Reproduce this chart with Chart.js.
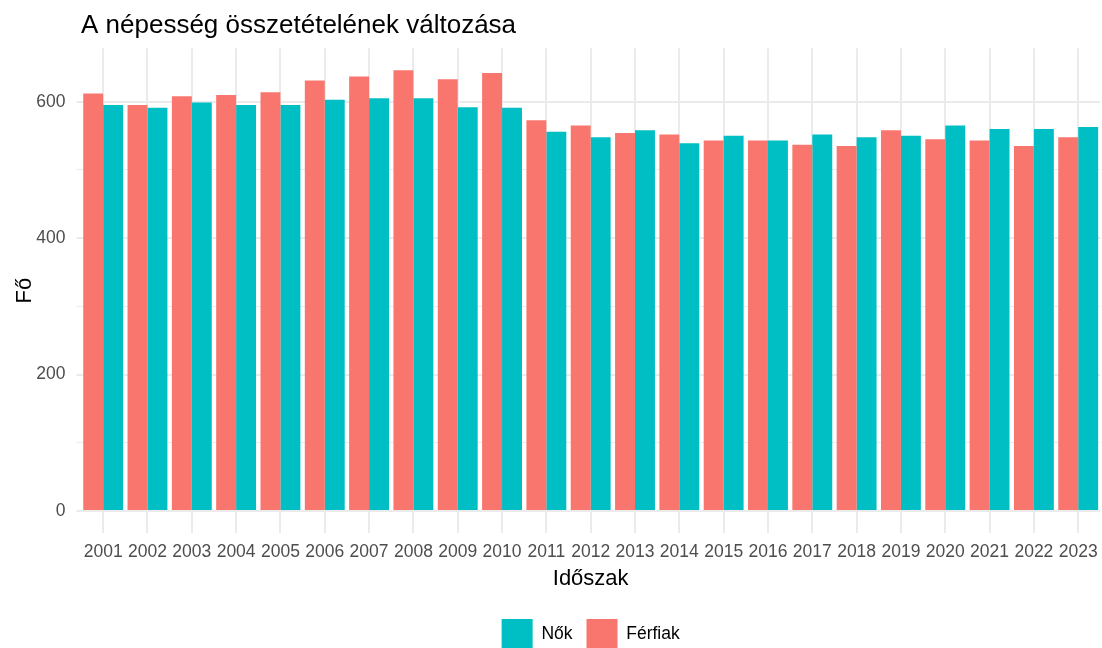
<!DOCTYPE html>
<html>
<head>
<meta charset="utf-8">
<script src="https://cdn.jsdelivr.net/npm/chart.js@4"></script>
<style>
  html, body { margin: 0; padding: 0; overflow: hidden; background: #ffffff; }
  #wrap { width: 1106px; height: 660px; }
</style>
</head>
<body>
<div id="wrap"><canvas id="c" width="1106" height="660"></canvas></div>
<script>
const years = ["2001","2002","2003","2004","2005","2006","2007","2008","2009","2010","2011","2012","2013","2014","2015","2016","2017","2018","2019","2020","2021","2022","2023"];
const ferfiak = [612, 595, 608, 610, 614, 631, 637, 646, 633, 642, 573, 565, 554, 552, 543, 543, 537, 535, 558, 545, 543, 535, 548];
const nok     = [595, 591, 599, 595, 595, 603, 605, 605, 592, 591, 556, 548, 558, 539, 550, 543, 552, 548, 550, 565, 560, 560, 563];
const yTicks  = [0, 100, 200, 300, 400, 500, 600];
const yLabeled = [0, 200, 400, 600];

const dataMax = Math.max(...ferfiak, ...nok);
const pad = dataMax * 0.05;

Chart.defaults.font.family = "'Liberation Sans', Arial, sans-serif";

new Chart(document.getElementById('c'), {
  type: 'bar',
  data: {
    labels: years,
    datasets: [
      { label: 'Férfiak', data: ferfiak, backgroundColor: '#F8766D', borderWidth: 0 },
      { label: 'Nők', data: nok, backgroundColor: '#00BFC4', borderWidth: 0 }
    ]
  },
  options: {
    responsive: false,
    devicePixelRatio: 1,
    animation: false,
    events: [],
    layout: { padding: 0 },
    datasets: { bar: { categoryPercentage: 0.9, barPercentage: 1.0 } },
    plugins: {
      title: {
        display: true,
        text: 'A népesség összetételének változása',
        align: 'start',
        fullSize: false,
        color: '#000000',
        font: { size: 26, weight: 'normal' },
        padding: { top: 9.9, bottom: 7.2 }
      },
      legend: {
        display: true,
        position: 'bottom',
        fullSize: false,
        reverse: true,
        labels: {
          boxWidth: 31,
          boxHeight: 31,
          padding: 14,
          color: '#000000',
          font: { size: 17.5 }
        }
      },
      tooltip: { enabled: false }
    },
    scales: {
      x: {
        offset: true,
        border: { display: false },
        grid: { offset: false, color: '#EBEBEB', lineWidth: 2, drawTicks: false },
        ticks: { color: '#4D4D4D', font: { size: 17.5 }, padding: 8.2, autoSkip: false, maxRotation: 0 },
        title: { display: true, text: 'Időszak', color: '#000000', font: { size: 22 }, padding: { top: 0, bottom: 12.6 } },
        afterFit: (s) => { s.height = 72; }
      },
      y: {
        min: -pad,
        max: dataMax + pad,
        border: { display: false },
        afterBuildTicks: (s) => { s.ticks = yTicks.map(v => ({ value: v })); },
        grid: {
          color: '#EBEBEB',
          lineWidth: (ctx) => (ctx.tick && yLabeled.includes(ctx.tick.value)) ? 2 : 1,
          drawTicks: true,
          tickLength: 4.5,
          tickColor: '#EBEBEB',
          tickWidth: (ctx) => (ctx.tick && yLabeled.includes(ctx.tick.value)) ? 2 : 1
        },
        ticks: {
          color: '#4D4D4D',
          font: { size: 17.5 },
          padding: 11,
          callback: (v) => yLabeled.includes(v) ? String(v) : ''
        },
        title: { display: true, text: 'Fő', color: '#000000', font: { size: 22 }, padding: { top: 11.9, bottom: 0 } },
        afterFit: (s) => { s.width = 81; }
      }
    }
  }
});
</script>
</body>
</html>
